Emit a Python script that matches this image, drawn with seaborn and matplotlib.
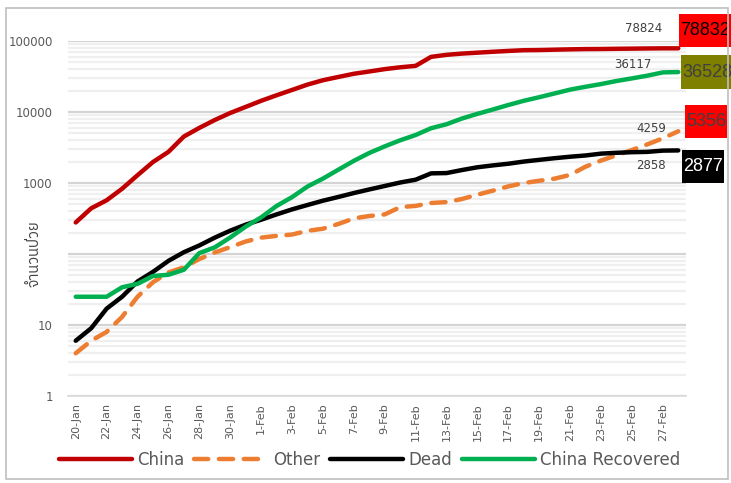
import numpy as np
import pandas as pd
import matplotlib
matplotlib.use("Agg")
import matplotlib.pyplot as plt
import matplotlib.ticker as mticker
from matplotlib import font_manager
from matplotlib.ft2font import FT2Font
from matplotlib.path import Path
from matplotlib.patches import Rectangle
import seaborn as sns

sns.set_theme(style="white")
plt.rcParams['font.family'] = ['DejaVu Sans']

# data
dates = ['20-Jan', '21-Jan', '22-Jan', '23-Jan', '24-Jan', '25-Jan', '26-Jan', '27-Jan',
         '28-Jan', '29-Jan', '30-Jan', '31-Jan', '1-Feb', '2-Feb', '3-Feb', '4-Feb',
         '5-Feb', '6-Feb', '7-Feb', '8-Feb', '9-Feb', '10-Feb', '11-Feb', '12-Feb',
         '13-Feb', '14-Feb', '15-Feb', '16-Feb', '17-Feb', '18-Feb', '19-Feb', '20-Feb',
         '21-Feb', '22-Feb', '23-Feb', '24-Feb', '25-Feb', '26-Feb', '27-Feb', '28-Feb']
china = [278, 440, 571, 830, 1287, 1975, 2744, 4515, 5974, 7711, 9692, 11791, 14380,
         17205, 20438, 24324, 28018, 31161, 34546, 37198, 40171, 42638, 44653, 59804,
         63851, 66492, 68500, 70548, 72436, 74185, 74576, 75465, 76288, 76936, 77150,
         77658, 78064, 78497, 78824, 78832]
other = [4, 6, 8, 13, 25, 40, 55, 65, 85, 105, 125, 150, 170, 180, 188, 212, 227, 265,
         317, 343, 361, 457, 476, 523, 538, 595, 685, 780, 896, 999, 1076, 1152, 1300,
         1700, 2069, 2459, 2918, 3500, 4259, 5356]
dead = [6, 9, 17, 25, 41, 56, 80, 106, 132, 170, 213, 259, 304, 361, 425, 490, 563,
        636, 722, 811, 908, 1016, 1113, 1367, 1380, 1523, 1665, 1770, 1868, 2004, 2118,
        2236, 2345, 2442, 2592, 2663, 2715, 2744, 2858, 2877]
recovered = [25, 25, 25, 34, 38, 49, 51, 60, 103, 124, 171, 243, 328, 475, 632, 892,
             1153, 1540, 2050, 2649, 3281, 3996, 4740, 5911, 6723, 8096, 9419, 10844,
             12552, 14376, 16155, 18264, 20659, 22688, 24734, 27323, 29745, 32495,
             36117, 36528]
y_ticks_shown = [1, 10, 1000, 10000, 100000]   # "100" is hidden behind the axis title

series_names = ['China', 'Other', 'Dead', 'China Recovered']
colors = ['#C00000', '#ED7D31', '#000000', '#00B050']


def find_thai_font():
    # look for any installed font that has Thai glyphs
    found = []
    for f in font_manager.fontManager.ttflist:
        try:
            cmap = FT2Font(f.fname).get_charmap()
        except Exception:
            continue
        if 0x0E08 in cmap and 0x0E27 in cmap:
            found.append(f.name)
    found.sort(key=lambda n: ('Thai' not in n, n))
    return found[0] if found else None


class TallBox:
    """square box with separate x / y padding (Excel style data callout)"""
    def __init__(self, padx=0.06, pady=0.45):
        self.padx, self.pady = padx, pady

    def __call__(self, x0, y0, width, height, mutation_size):
        px, py = self.padx * mutation_size, self.pady * mutation_size
        x0, y0 = x0 - px, y0 - py
        x1, y1 = x0 + width + 2 * px, y0 + height + 2 * py
        return Path([(x0, y0), (x1, y0), (x1, y1), (x0, y1), (x0, y0)], closed=True)


thai = find_thai_font()
thai_family = [thai, 'DejaVu Sans'] if thai else ['DejaVu Sans']

df = pd.DataFrame({'day': range(len(dates)), 'China': china, 'Other': other,
                   'Dead': dead, 'China Recovered': recovered})
long = df.melt(id_vars='day', var_name='series', value_name='cases')

fig = plt.figure(figsize=(7.31, 4.83), dpi=100)
ax = fig.add_axes([68 / 731, 1 - 396 / 483, (686 - 68) / 731, (396 - 41) / 483])

sns.lineplot(data=long, x='day', y='cases', hue='series', style='series',
             hue_order=series_names, style_order=series_names,
             palette=colors, dashes={'China': '', 'Other': (3.2, 2.4), 'Dead': '',
                                     'China Recovered': ''},
             linewidth=3.2, ax=ax, legend=True)
for ln in ax.get_lines():
    ln.set_solid_capstyle('round')
    ln.set_dash_capstyle('round')

ax.set_yscale('log')
ax.set_ylim(1, 100000)
ax.set_xlim(-0.5, len(dates) - 0.5)

ax.yaxis.set_major_locator(mticker.LogLocator(base=10, numticks=10))
ax.yaxis.set_minor_locator(mticker.LogLocator(base=10, subs=np.arange(2, 10), numticks=20))
ax.yaxis.set_major_formatter(mticker.FuncFormatter(
    lambda v, p: f"{int(round(v))}" if int(round(v)) in y_ticks_shown else ""))
ax.yaxis.set_minor_formatter(mticker.NullFormatter())
ax.grid(True, which='major', axis='y', color='#D4D4D4', lw=1.6)
ax.grid(True, which='minor', axis='y', color='#EFEFEF', lw=1.6)
ax.set_axisbelow(True)

ax.set_xticks(range(0, len(dates), 2))
ax.set_xticklabels(dates[::2], rotation=90, fontsize=8, color='#595959')
ax.set_xticks(np.arange(-0.5, len(dates), 2), minor=True)
ax.tick_params(axis='x', which='major', length=0, pad=5)
ax.tick_params(axis='x', which='minor', length=5, color='#D9D9D9', width=1, direction='out')
ax.tick_params(axis='y', which='both', length=0, labelsize=8.5, labelcolor='#595959', pad=11)

for s in ['top', 'right', 'left']:
    ax.spines[s].set_visible(False)
ax.spines['bottom'].set_color('#D9D9D9')
ax.spines['bottom'].set_linewidth(1.2)

ax.set_xlabel('')
ax.set_ylabel('จำนวนป่วย', family=thai_family, fontsize=10.5, color='#404040')
ax.yaxis.set_label_coords(-0.042, 0.40)

last = len(dates) - 1
# value labels on the second to last point
label_specs = [(china, -19, 20), (recovered, -30, 8), (other, -12, 10), (dead, -12, -15)]
for vals, dx, dy in label_specs:
    ax.annotate(f"{vals[-2]}", (last - 1, vals[-2]), xytext=(dx, dy),
                textcoords='offset pixels', ha='center', va='center',
                fontsize=8.5, color='#404040', annotation_clip=False)

# boxed final values
box_specs = [(china, '#FF0000', '#000000', 27, 18),
             (recovered, '#808000', '#404040', 29, 0),
             (other, '#FF0000', '#404040', 28, 10),
             (dead, '#000000', '#FFFFFF', 25, -16)]
for vals, fc, tc, dx, dy in box_specs:
    ax.annotate(f"{vals[-1]}", (last, vals[-1]), xytext=(dx, dy),
                textcoords='offset pixels', ha='center', va='center',
                fontsize=13, family='Liberation Sans', color=tc,
                annotation_clip=False,
                bbox=dict(boxstyle=TallBox(), fc=fc, ec='none'))

handles, labels = ax.get_legend_handles_labels()
ax.legend(handles, labels, loc='center', bbox_to_anchor=(0.488, -0.18),
          ncol=4, frameon=False, fontsize=12, handlelength=4.4,
          handletextpad=0.3, columnspacing=0.6, labelcolor='#595959')

fig.patches.append(Rectangle((6 / 731, 1 - 479 / 483), 722 / 731, 471 / 483,
                             transform=fig.transFigure, fill=False,
                             ec='#BFBFBF', lw=1.2))

fig.savefig('out.png', dpi=100)
